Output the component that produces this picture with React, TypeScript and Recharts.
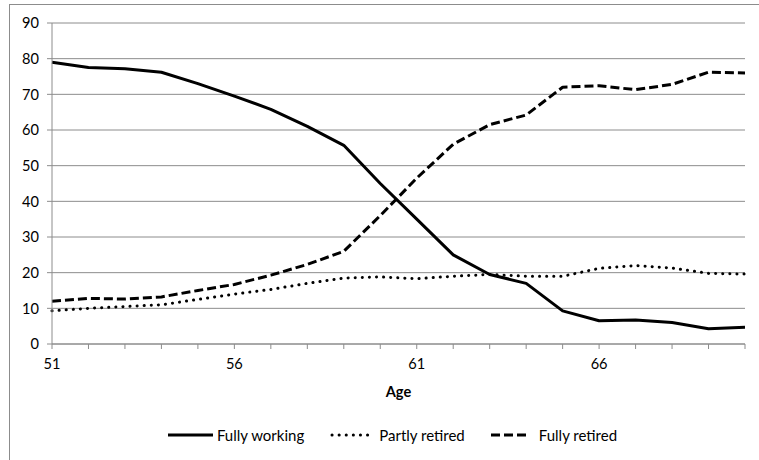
import {
  CartesianGrid,
  Legend,
  Line,
  LineChart,
  XAxis,
  YAxis,
} from "recharts";

const ages = [51, 52, 53, 54, 55, 56, 57, 58, 59, 60, 61, 62, 63, 64, 65, 66, 67, 68, 69, 70];

const fullyWorking = [79, 77.5, 77.2, 76.2, 73, 69.5, 65.8, 61, 55.7, 45, 35, 25, 19.5, 17, 9.3, 6.5, 6.7, 6, 4.3, 4.7];
const partlyRetired = [9.3, 10, 10.5, 11, 12.5, 14, 15.3, 17, 18.5, 18.8, 18.3, 19, 19.5, 19, 19, 21.2, 22, 21.3, 19.8, 19.6];
const fullyRetired = [12, 12.8, 12.6, 13.2, 15, 16.7, 19.3, 22.3, 26, 36, 46.5, 56, 61.5, 64.2, 72, 72.4, 71.3, 72.8, 76.2, 76];

const yTicks = [0, 10, 20, 30, 40, 50, 60, 70, 80, 90];
const labelledAges = [51, 56, 61, 66];

const data = ages.map((age, i) => ({
  age,
  working: fullyWorking[i],
  partly: partlyRetired[i],
  retired: fullyRetired[i],
}));

const font = "Lato, 'Liberation Sans', sans-serif";
const fontSize = 14.6;
const gridColor = "#8c8c8c";

const series = [
  { key: "working", name: "Fully working", dash: undefined as string | undefined, cap: "butt" as const, gap: 4, width: 45 },
  { key: "partly", name: "Partly retired", dash: "0.1 7", cap: "round" as const, gap: 9, width: 40 },
  { key: "retired", name: "Fully retired", dash: "9 4", cap: "butt" as const, gap: 9, width: 39 },
];

const LegendContent = () => (
  <div
    style={{
      display: "flex",
      justifyContent: "center",
      alignItems: "center",
      height: 20,
      marginLeft: 28,
      fontFamily: font,
      fontSize: 15,
      color: "#000",
    }}
  >
    {series.map((s, i) => (
      <div
        key={s.key}
        style={{ display: "flex", alignItems: "center", marginLeft: i === 0 ? 0 : 26 }}
      >
        <svg width={s.width} height={10} style={{ marginRight: s.gap, flexShrink: 0 }}>
          <line
            x1={s.cap === "round" ? 2 : 0}
            y1={5}
            x2={s.width}
            y2={5}
            stroke="#000"
            strokeWidth={3}
            strokeDasharray={s.dash}
            strokeLinecap={s.cap}
          />
        </svg>
        <span style={{ whiteSpace: "nowrap" }}>{s.name}</span>
      </div>
    ))}
  </div>
);

const App = () => {
  return (
    <div style={{ position: "absolute", left: 0, top: 0, width: 759, height: 460, background: "#fff" }}>
      <div
        style={{
          position: "absolute",
          left: 9,
          top: 4,
          width: 760,
          height: 470,
          borderTop: `1px solid ${gridColor}`,
          borderLeft: `1px solid ${gridColor}`,
        }}
      />
      <LineChart
        width={759}
        height={460}
        data={data}
        margin={{ top: 23, right: 14, left: 12, bottom: 15 }}
        style={{ position: "absolute", left: 0, top: 0 }}
      >
        <CartesianGrid vertical={false} stroke={gridColor} strokeWidth={1} />
        <XAxis
          dataKey="age"
          interval={0}
          height={81}
          tickSize={5}
          stroke={gridColor}
          tick={{ fill: "#000", fontSize, fontFamily: font }}
          tickFormatter={(v: number) => (labelledAges.includes(v) ? String(v) : "")}
          tickMargin={10}
          label={{
            value: "Age",
            position: "insideTop",
            offset: 43,
            fill: "#000",
            fontSize,
            fontWeight: "bold",
            fontFamily: font,
          }}
        />
        <YAxis
          width={40}
          domain={[0, 90]}
          ticks={yTicks}
          tickSize={5}
          stroke={gridColor}
          tick={{ fill: "#000", fontSize, fontFamily: font }}
          tickMargin={8}
        />
        <Legend verticalAlign="bottom" content={<LegendContent />} />
        {series.map((s) => (
          <Line
            key={s.key}
            type="linear"
            dataKey={s.key}
            name={s.name}
            stroke="#000"
            strokeWidth={3}
            strokeDasharray={s.dash}
            strokeLinecap={s.cap}
            strokeLinejoin="round"
            dot={false}
            activeDot={false}
            isAnimationActive={false}
          />
        ))}
      </LineChart>
    </div>
  );
};

export default App;
